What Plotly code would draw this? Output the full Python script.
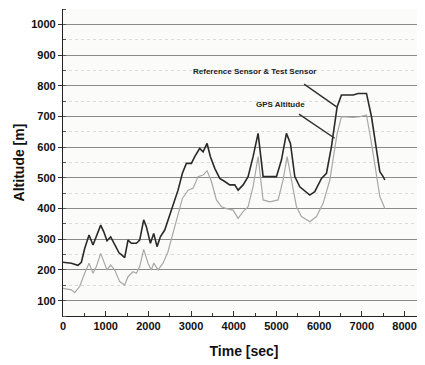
import plotly.graph_objects as go

ref_time = [0, 195, 350, 430, 508, 610, 703, 781, 883, 953, 1031, 1117, 1211, 1312, 1367, 1445,
            1523, 1601, 1719, 1797, 1890, 1953, 2047, 2125, 2203, 2281, 2383, 2461, 2578, 2695,
            2797, 2890, 3008, 3086, 3203, 3281, 3375, 3453, 3555, 3672, 3789, 3906, 4023, 4102,
            4219, 4336, 4453, 4570, 4688, 4805, 5000, 5117, 5234, 5328, 5430, 5547, 5703, 5781,
            5898, 6055, 6172, 6289, 6422, 6523, 6797, 6914, 7109, 7227, 7344, 7422, 7500, 7539]
ref_alt = [225, 222, 215, 225, 270, 314, 281, 308, 346, 325, 295, 308, 281, 256, 250, 240,
           297, 287, 287, 297, 363, 341, 287, 319, 276, 308, 330, 363, 406, 460,
           515, 547, 547, 569, 596, 585, 612, 569, 531, 498, 488, 477, 477, 460,
           477, 504, 569, 645, 504, 504, 504, 558, 645, 612, 504, 471, 455, 444,
           455, 498, 515, 602, 732, 770, 770, 775, 775, 699, 591, 520, 504, 493]

gps_time = [0, 195, 273, 390, 508, 610, 703, 781, 883, 977, 1031, 1117, 1211, 1328, 1445, 1523,
            1640, 1719, 1797, 1890, 1992, 2070, 2125, 2227, 2344, 2461, 2578, 2695, 2797, 2930,
            3047, 3164, 3281, 3375, 3477, 3594, 3711, 3828, 3984, 4102, 4219, 4336, 4453, 4570,
            4688, 4844, 5039, 5156, 5250, 5352, 5469, 5586, 5781, 5938, 6094, 6250, 6422, 6523,
            6797, 6953, 7109, 7227, 7328, 7422, 7539]
gps_alt = [140, 135, 126, 146, 189, 222, 189, 211, 254, 216, 200, 216, 200, 162, 151, 178,
           194, 189, 211, 267, 222, 200, 222, 200, 222, 260, 319, 384, 433, 460,
           466, 504, 509, 523, 488, 428, 406, 400, 395, 368, 390, 406, 471, 569,
           428, 422, 428, 493, 569, 493, 406, 374, 357, 374, 417, 493, 645, 699,
           697, 699, 705, 612, 515, 439, 400]

x_ticks = [0, 1000, 2000, 3000, 4000, 5000, 6000, 7000, 8000]
y_ticks = [100, 200, 300, 400, 500, 600, 700, 800, 900, 1000]

fig = go.Figure()
fig.add_trace(go.Scatter(x=gps_time, y=gps_alt, mode="lines", name="GPS Altitude",
                         line=dict(color="#a8a8a8", width=1.2)))
fig.add_trace(go.Scatter(x=ref_time, y=ref_alt, mode="lines", name="Reference Sensor & Test Sensor",
                         line=dict(color="#2a2a2a", width=1.6)))

fig.add_annotation(x=4490, y=845, text="<b>Reference Sensor & Test Sensor</b>", showarrow=False,
                   font=dict(size=8, family="Arial", color="#222"))
fig.add_annotation(x=6410, y=731, ax=5613, ay=809, axref="x", ayref="y", xref="x", yref="y",
                   text="", showarrow=True, arrowhead=0, arrowwidth=1.5, arrowcolor="#333")
fig.add_annotation(x=5096, y=740, text="<b>GPS Altitude</b>", showarrow=False,
                   font=dict(size=8, family="Arial", color="#222"))
fig.add_annotation(x=6363, y=629, ax=5494, ay=711, axref="x", ayref="y", xref="x", yref="y",
                   text="", showarrow=True, arrowhead=0, arrowwidth=1.5, arrowcolor="#333")

# page body has an 8px default margin; margins below compensate for it
fig.update_layout(
    width=425, height=365,
    margin=dict(l=55, r=8, t=1, b=57),
    paper_bgcolor="white", plot_bgcolor="#fbfbfa",
    showlegend=False,
    font=dict(family="Arial", color="#111"),
    xaxis=dict(range=[0, 8480], tickvals=x_ticks, ticktext=[f"<b>{v}</b>" for v in x_ticks],
               automargin=False,
               showgrid=False, zeroline=False, showline=True, linecolor="#222", linewidth=1.2,
               ticks="inside", ticklen=5, tickcolor="#333",
               minor=dict(dtick=500, ticks="inside", ticklen=3, tickcolor="#333", showgrid=False),
               tickfont=dict(size=11, family="Arial", color="#111"),
               title=dict(text="<b>Time [sec]</b>", font=dict(size=14, family="Arial"), standoff=14)),
    yaxis=dict(range=[50, 1050], tickvals=y_ticks, ticktext=[f"<b>{v}</b>" for v in y_ticks],
               automargin=False,
               showgrid=True, gridcolor="#8a8a8a", gridwidth=1, zeroline=False,
               showline=True, linecolor="#222", linewidth=1.2,
               ticks="outside", ticklen=4, tickcolor="#333",
               minor=dict(dtick=50, ticks="inside", ticklen=3, tickcolor="#555",
                          showgrid=True, gridcolor="#dcdcdc", griddash="dot", gridwidth=1),
               tickfont=dict(size=11, family="Arial", color="#111"),
               title=dict(text="<b>Altitude [m]</b>", font=dict(size=14, family="Arial"), standoff=3)),
)

fig.write_html("out.html")
